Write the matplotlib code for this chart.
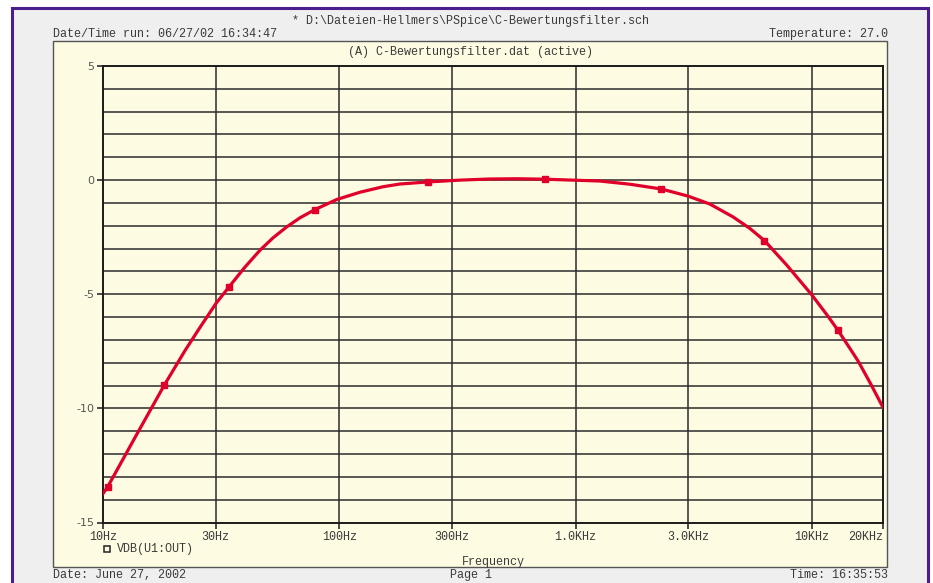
import matplotlib
matplotlib.use("Agg")
import matplotlib.pyplot as plt
from matplotlib.patches import Rectangle
from matplotlib.lines import Line2D

# curve: frequency in Hz, level in dB
freq_hz = [10, 10.45, 13.79, 18.2, 22.23, 25.74, 30.08, 34.14, 39.51, 46.17,
           52.41, 59.9, 68.19, 78.9, 97.5, 122.4, 153.1, 180.7, 237.3, 324,
           434.2, 570.6, 742.1, 1268.6, 1699, 2310, 2991, 3705, 4636, 5471,
           6301, 7824, 9981, 11732, 12897, 14500, 15720, 17790, 20000]
level_db = [-13.73, -13.45, -11.2, -8.97, -7.47, -6.45, -5.40, -4.68, -3.86,
            -3.07, -2.53, -2.05, -1.65, -1.29, -0.85, -0.53, -0.29, -0.17,
            -0.08, 0.0, 0.05, 0.06, 0.04, -0.04, -0.18, -0.39, -0.70, -1.05,
            -1.61, -2.12, -2.65, -3.72, -5.02, -5.98, -6.58, -7.38, -7.94,
            -8.95, -9.96]

# PSpice trace markers
marker_hz = [10.45, 18.2, 34.14, 78.9, 237.3, 742.1, 2310, 6301, 12897]
marker_db = [-13.45, -8.97, -4.68, -1.29, -0.08, 0.04, -0.39, -2.65, -6.58]

xtick_hz = [10, 30, 100, 300, 1000, 3000, 10000, 20000]
xtick_labels = ["10Hz", "30Hz", "100Hz", "300Hz", "1.0KHz", "3.0KHz", "10KHz", "20KHz"]
ytick_db = [5, 0, -5, -10, -15]

W, H = 933, 583
cream = "#fdfce2"
grey_bg = "#efefef"
purple = "#4a1e8c"
txt = "#3a3a3a"
red = "#e0002a"
mono = "Liberation Mono"


def fx(px):
    return px / W


def fy(py):
    return 1 - py / H


fig = plt.figure(figsize=(W / 100, H / 100), dpi=100)
fig.patch.set_facecolor("white")

# outer purple frame with grey page, then cream plot panel
fig.patches.append(Rectangle((fx(12), fy(600)), fx(928) - fx(12), fy(8) - fy(600),
                             transform=fig.transFigure, facecolor=grey_bg,
                             edgecolor=purple, linewidth=2.2, zorder=-3))
fig.patches.append(Rectangle((fx(53), fy(567)), fx(887) - fx(53), fy(41) - fy(567),
                             transform=fig.transFigure, facecolor=cream,
                             edgecolor="#555555", linewidth=1.0, zorder=-2))

ax = fig.add_axes([fx(103), fy(522.5), fx(883) - fx(103), fy(66) - fy(522.5)])
ax.set_zorder(2)
ax.set_facecolor(cream)
ax.set_xscale("log")
ax.set_xlim(10, 20000)
ax.set_ylim(-15, 5)

for v in range(-14, 5):
    ax.axhline(v, color="#2b2b2b", linewidth=1.1, zorder=1)
for f in xtick_hz[1:-1]:
    ax.axvline(f, color="#2b2b2b", linewidth=1.1, zorder=1)

ax.plot(freq_hz, level_db, color=red, linewidth=2.3, zorder=3,
        solid_joinstyle="round")
ax.plot(marker_hz, marker_db, linestyle="none", marker="s", markersize=4.6,
        color=red, zorder=4)

ax.set_xticks(xtick_hz)
ax.set_xticklabels(xtick_labels, fontfamily=mono, fontsize=8.5, color=txt)
ax.get_xticklabels()[-1].set_horizontalalignment("right")
ax.minorticks_off()
ax.set_yticks(ytick_db)
ax.set_yticklabels([str(v) for v in ytick_db], fontsize=8, color="#555555")
ax.tick_params(axis="both", length=4, width=1.2, color="#2b2b2b", pad=2)
for s in ax.spines.values():
    s.set_color("#1a1a1a")
    s.set_linewidth(1.4)

# header and footer texts
fig.text(fx(470), fy(21), "* D:\\Dateien-Hellmers\\PSpice\\C-Bewertungsfilter.sch",
         ha="center", va="center", fontfamily=mono, fontsize=8.5, color=txt)
fig.text(fx(53), fy(34), "Date/Time run: 06/27/02 16:34:47",
         ha="left", va="center", fontfamily=mono, fontsize=8.5, color=txt)
fig.text(fx(888), fy(34), "Temperature: 27.0",
         ha="right", va="center", fontfamily=mono, fontsize=8.5, color=txt)
fig.text(fx(470), fy(52), "(A) C-Bewertungsfilter.dat (active)",
         ha="center", va="center", fontfamily=mono, fontsize=8.5, color=txt)

fig.lines.append(Line2D([fx(107)], [fy(549)], transform=fig.transFigure,
                        marker="s", markersize=4, markerfacecolor="none",
                        markeredgecolor="#222222", markeredgewidth=1.1))
fig.text(fx(117), fy(549), "VDB(U1:OUT)", ha="left", va="center",
         fontfamily=mono, fontsize=8.5, color=txt)
fig.text(fx(493), fy(562), "Frequency", ha="center", va="center",
         fontfamily=mono, fontsize=8.5, color=txt)

fig.text(fx(53), fy(575), "Date: June 27, 2002", ha="left", va="center",
         fontfamily=mono, fontsize=8.5, color=txt)
fig.text(fx(471), fy(575), "Page 1", ha="center", va="center",
         fontfamily=mono, fontsize=8.5, color=txt)
fig.text(fx(888), fy(575), "Time: 16:35:53", ha="right", va="center",
         fontfamily=mono, fontsize=8.5, color=txt)

fig.savefig("out.png", dpi=100, facecolor=fig.get_facecolor())
